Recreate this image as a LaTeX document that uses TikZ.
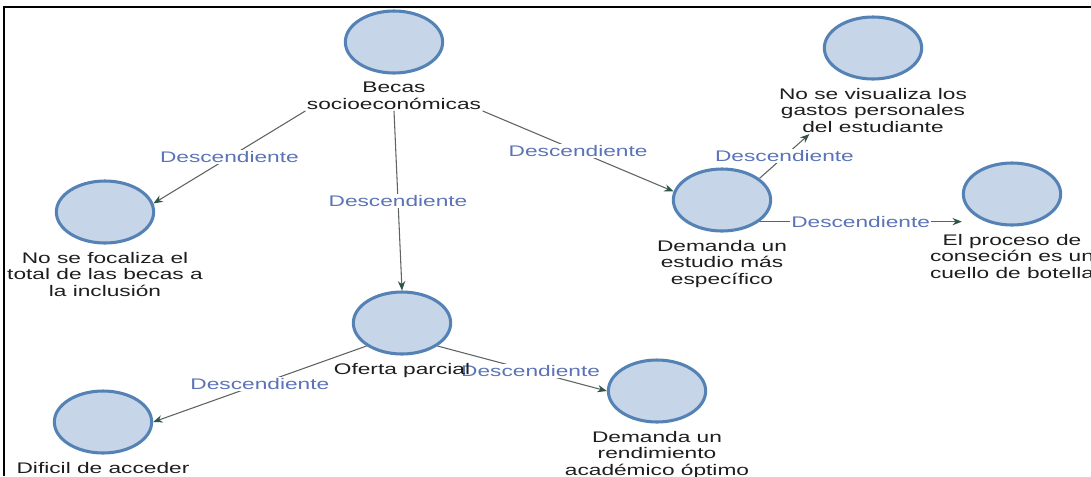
\documentclass[tikz,border=0pt]{standalone}
\usepackage{fontspec}
\setmainfont{Liberation Sans}[FakeStretch=1.48]
\usepackage{tikz}
\usepackage{xcolor}
\usetikzlibrary{arrows.meta,positioning,shapes.geometric}
\definecolor{Ink}{HTML}{1E1E1E}
\definecolor{BolaFill}{HTML}{C6D5E8}
\definecolor{BolaLine}{HTML}{5582B4}
\definecolor{EdgeGray}{HTML}{5E6460}
\definecolor{TipGreen}{HTML}{2F5548}
\definecolor{LblBlue}{HTML}{5B74B8}
\pgfdeclarelayer{fondo}
\pgfsetlayers{fondo,main}
\tikzset{
  bola/.style={ellipse, draw=BolaLine, fill=BolaFill, line width=2.3pt, minimum width=73pt, minimum height=46.5pt, inner sep=0pt},
  txt/.style={text=Ink, align=center, font=\fontsize{11.5}{12.4}\selectfont, inner sep=1pt},
  rel/.style={draw=EdgeGray, line width=0.8pt, -{Stealth[length=7pt,width=5.5pt,color=TipGreen]}},
  lbl/.style={fill=white, text=LblBlue, inner sep=1pt, font=\fontsize{11.5}{12.4}\selectfont}
}
\newcommand{\concepto}[4]{
  \node[bola] (#1) at (#2,#3) {};
  \node[txt, anchor=north] (#1T) at ([yshift=-4.5pt]#1.south) {#4};
}

\begin{document}
\begin{tikzpicture}[x=0.75pt, y=-0.75pt]
    \clip (0,0) rectangle (1091,476);
    \begin{pgfonlayer}{fondo}
    \fill[white] (0,0) rectangle (1091,476);
    \end{pgfonlayer}
    \draw[black, line width=1.6pt] (4,476) -- (4,7) -- (1091,7);
    \concepto{becas}{394}{42}{Becas\\socioeconómicas}
    \concepto{focal}{105}{212}{No se focaliza el\\total de las becas a\\la inclusión}
    \concepto{oferta}{402}{323}{Oferta parcial}
    \concepto{estudio}{722}{200}{Demanda un\\estudio más\\específico}
    \concepto{visual}{873}{48}{No se visualiza los\\gastos personales\\del estudiante}
    \concepto{proceso}{1012}{194}{El proceso de\\conseción es un\\cuello de botella}
    \concepto{dificil}{103}{422}{Dificil de acceder}
    \concepto{rendim}{657}{391}{Demanda un\\rendimiento\\académico óptimo}
    \begin{pgfonlayer}{fondo}
    \draw[rel] (becasT.south west) -- node[lbl] {Descendiente} (focal.10);
    \draw[rel] (becasT.south) -- node[lbl] {Descendiente} (oferta.north);
    \draw[rel] (becasT.south east) -- node[lbl] {Descendiente} (estudio.170);
    \draw[rel] (estudio.30) -- node[lbl] {Descendiente} ([xshift=24pt]visualT.south west);
    \draw[rel] (estudio.-30) -- node[lbl] {Descendiente} (estudio.-30 -| proceso.west);
    \draw[rel] (oferta.south west) -- node[lbl] {Descendiente} (dificil.east);
    \draw[rel] (oferta.south east) -- node[lbl, pos=0.55] {Descendiente} (rendim.west);
    \end{pgfonlayer}
  \end{tikzpicture}
\end{document}
